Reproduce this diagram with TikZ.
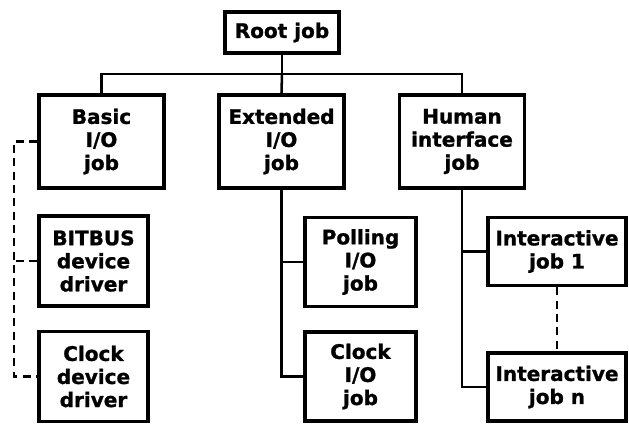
\documentclass[tikz,border=0pt]{standalone}
\usepackage{fontspec}
\setmainfont{DejaVu Sans}[BoldFeatures={FakeBold=1.2}]
\usetikzlibrary{positioning,calc}

\begin{document}
\begin{tikzpicture}
	[x=0.75pt,y=-0.75pt,
	every node/.style={draw,line width=2.8pt,align=center,inner sep=0pt,
		font=\fontsize{15pt}{17.3pt}\selectfont\bfseries},
	jobbox/.style={minimum width=93.75pt,minimum height=69.75pt},
	drvbox/.style={minimum width=81.75pt,minimum height=67.5pt},
	iobox/.style={minimum width=83.25pt,minimum height=66.75pt},
	interbox/.style={minimum width=103.5pt,minimum height=51pt},
	link/.style={line width=1.9pt},
	weaklink/.style={line width=1.9pt,dash pattern=on 6pt off 4pt}]
	\useasboundingbox (0,0) rectangle (629,429);
	% top of the hierarchy
	\node[minimum width=85.5pt,minimum height=30.75pt] (root) at (282,32.5) {Root job};
	\node[jobbox] (basic) at (101.5,141.5) {Basic\\I/O\\job};
	\node[jobbox] (ext) at (281.5,141.5) {Extended\\I/O\\job};
	\node[jobbox] (human) at (462,141.5) {Human\\interface\\job};
	% lower jobs
	\node[drvbox] (bitbus) at (93.5,261) {BITBUS\\device\\driver};
	\node[drvbox] (clockdrv) at (93.5,376.5) {Clock\\device\\driver};
	\node[iobox] (polling) at (360.5,262) {Polling\\I/O\\job};
	\node[iobox] (clockio) at (360.5,376.5) {Clock\\I/O\\job};
	\node[interbox] (inter1) at (557,251.5) {Interactive\\job 1};
	\node[interbox] (intern) at (557,387) {Interactive\\job n};
	\coordinate (bar) at (0,74);
	\coordinate (rail) at (14,0);
	% connectors
	\draw[link] (root.south) -- (root.south |- bar);
	\draw[link] (basic.north) |- (human.north |- bar) -- (human.north);
	\draw[link] (root.south |- bar) -- (ext.north);
	\draw[link] (ext.south) |- (clockio.west);
	\draw[link] (ext.south |- polling.west) -- (polling.west);
	\draw[link] (human.south) |- (intern.west);
	\draw[link] (human.south |- inter1.west) -- (inter1.west);
	\draw[weaklink] (basic.west) -- (basic.west -| rail) |- (clockdrv.west);
	\draw[weaklink] (bitbus.west) -- (bitbus.west -| rail);
	\draw[weaklink] (inter1.south) -- (intern.north);
\end{tikzpicture}
\end{document}
